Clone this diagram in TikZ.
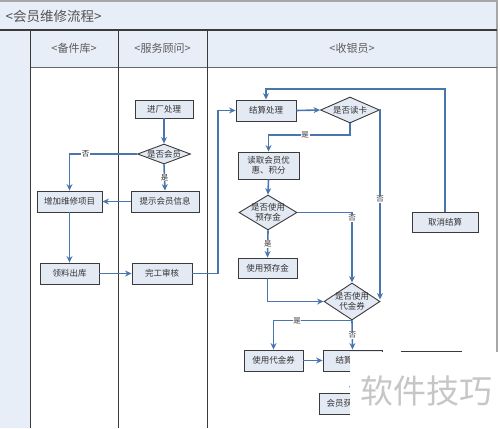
\documentclass[tikz,border=0pt]{standalone}
\usepackage{fontspec}
\setmainfont{Noto Sans CJK SC}
\usetikzlibrary{shapes.geometric,arrows.meta}
\definecolor{bandfill}{HTML}{E8EEF8}
\definecolor{boxfill}{HTML}{E4EAF4}
\definecolor{boxline}{HTML}{3A3A3A}
\definecolor{flowc}{HTML}{4A76B0}
\definecolor{txtc}{HTML}{333333}
\begin{document}
\begin{tikzpicture}[x=1pt,y=-1pt,
  stepbox/.style={draw=boxline, fill=boxfill, line width=0.9pt, inner sep=1pt,
    text=txtc, font=\fontsize{8.5}{10}\selectfont, minimum height=21pt, align=center},
  dia/.style={diamond, draw=boxline, fill=boxfill, line width=0.9pt, inner sep=0pt},
  diatext/.style={text=txtc, font=\fontsize{8.5}{10}\selectfont, align=center, inner sep=0pt},
  flow/.style={draw=flowc, line width=1.6pt, -{Stealth[length=6.5pt,width=6pt]}},
  lbl/.style={font=\fontsize{7.5}{8}\selectfont, text=txtc, fill=white, inner sep=0.6pt},
  lane/.style={draw=boxline, line width=0.8pt},
  head/.style={text=txtc!80, font=\fontsize{11}{12}\selectfont}]
\useasboundingbox (0,0) rectangle (500,428);
% bands
\fill[bandfill] (0,2) rectangle (497,30);
\fill[bandfill] (0,30) rectangle (30,428);
\fill[bandfill] (30,30) rectangle (497,67);
\draw[gray!70, line width=2pt] (0,1) -- (498,1);
\draw[gray!70, line width=2pt] (497,0) -- (497,352);
\draw[boxline, line width=1.2pt] (0,30) -- (497,30);
\draw[gray!80!black, line width=0.8pt] (30,67) -- (497,67);
\draw[lane] (30,30) -- (30,428);
\draw[lane] (118,30) -- (118,428);
\draw[lane] (207,30) -- (207,428);
\node[anchor=west, text=txtc!85, font=\fontsize{13.5}{14}\selectfont] (title) at (2,16) {<会员维修流程>};
\node[head] (h1) at (74,48) {<备件库>};
\node[head] (h2) at (162.5,48) {<服务顾问>};
\node[head] (h3) at (352,48) {<收银员>};
% nodes
\node[stepbox, minimum width=58pt, minimum height=18pt] (jc) at (164,109) {进厂处理};
\node[dia, minimum width=53pt, minimum height=20pt] (hy) at (164,154) {};
\node[diatext] (hyt) at (hy.center) {是否会员};
\node[stepbox, minimum width=68pt] (ts) at (165,201.5) {提示会员信息};
\node[stepbox, minimum width=65pt] (zj) at (69.5,201.5) {增加维修项目};
\node[stepbox, minimum width=59pt] (ll) at (69.5,273.5) {领料出库};
\node[stepbox, minimum width=60pt] (wg) at (162,273.5) {完工审核};
\node[stepbox, minimum width=60pt] (js) at (266,110.5) {结算处理};
\node[dia, minimum width=59pt, minimum height=26pt] (dk) at (350,110) {};
\node[diatext] (dkt) at (dk.center) {是否读卡};
\node[stepbox, minimum width=61pt, minimum height=27pt, inner sep=0pt] (dq) at (268.5,165.5) {读取会员优\\惠、积分};
\node[dia, minimum width=58pt, minimum height=35pt] (yc) at (268,212.5) {};
\node[diatext] (yct) at (yc.center) {是否使用\\预存金};
\node[stepbox, minimum width=59pt, minimum height=20pt] (sy) at (267.5,268) {使用预存金};
\node[dia, minimum width=56pt, minimum height=37pt] (dj) at (352,301.5) {};
\node[diatext] (djt) at (dj.center) {是否使用\\代金券};
\node[stepbox, minimum width=66pt, minimum height=20pt] (qx) at (445,222) {取消结算};
\node[stepbox, minimum width=59pt] (sd) at (273.5,360.5) {使用代金券};
\node[stepbox, minimum width=59pt] (jw) at (352.5,360.5) {结算\hphantom{完成}};
\node[stepbox, minimum width=60pt] (hx) at (431,361.5) {};
\node[stepbox, minimum width=66pt] (hj) at (352,403.5) {会员获\hphantom{得积分}};
% connectors
\draw[flow] (jc.south) -- (hy.north);
\draw[flow] (hy.south) -- node[lbl]{是} (ts.north);
\draw[flow] (hy.west) -| node[lbl, pos=0.38]{否} (zj.north);
\draw[flow] (ts.west) -- (zj.east);
\draw[flow] (zj.south) -- (ll.north);
\draw[flow] (ll.east) -- (wg.west);
\draw[flow] (wg.east) -- (218,273.5) -- (218,110.5) -- (js.west);
\draw[flow] (js.east) -- (dk.west);
\draw[flow] (dk.south) -- (350,135) -- node[lbl, pos=0.55]{是} (268.5,135) -- (dq.north);
\draw[flow] (dq.south) -- (yc.north);
\draw[flow] (yc.east) -| node[lbl, pos=0.54]{否} (dj.north);
\draw[flow] (yc.south) -- node[lbl, pos=0.5]{是} (sy.north);
\draw[flow] (dk.east) -- (380,110) -- node[lbl, pos=0.47]{否} (380,299.5);
\draw[flow] (sy.south) |- (dj.west);
\draw[flow] (dj.south) -| node[lbl, pos=0.35]{是} (sd.north);
\draw[flow] (dj.south) -- node[lbl, pos=0.5]{否} (jw.north);
\draw[flow] (sd.east) -- (jw.west);
\draw[flow] (qx.north) -- (445,89) -- (266,89) -- (js.north);
\draw[flow] (jw.south) -- (hj.north);
% watermark patch
\fill[white] (350,352) rectangle (500,428);
\node[text=gray!45, font=\fontsize{33}{34}\selectfont, inner sep=0pt] (wm) at (426,391) {软件技巧};
\end{tikzpicture}
\end{document}
